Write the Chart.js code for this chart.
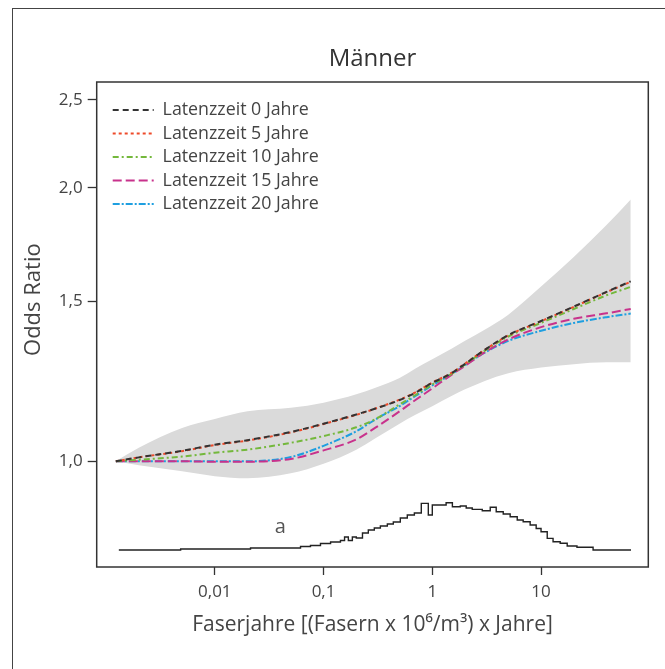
<!DOCTYPE html>
<html>
<head>
<meta charset="utf-8">
<script src="https://cdn.jsdelivr.net/npm/chart.js@4.4.1/dist/chart.umd.min.js"></script>
<style>
  html, body { margin: 0; padding: 0; background: #fff; }
  #wrap { position: relative; width: 665px; height: 669px; overflow: hidden; }
  #frame { position: absolute; left: 12px; top: 8px; width: 700px; height: 700px;
           border-left: 1.5px solid #444; border-top: 1.5px solid #444; }
  canvas { position: absolute; left: 0; top: 0; }
</style>
</head>
<body>
<div id="wrap"><div id="frame"></div><canvas id="chart" width="665" height="669"></canvas></div>
<script>
var xValues = [0.00123, 0.002, 0.005, 0.01, 0.02, 0.05, 0.1, 0.2, 0.3, 0.5, 0.7, 1, 1.5, 2, 3, 5, 10, 20, 40, 66.8];

// odds ratio curves, one per latency time
var lat0  = [1.0, 1.01, 1.027, 1.043, 1.055, 1.077, 1.10, 1.126, 1.143, 1.168, 1.19, 1.22, 1.25, 1.28, 1.325, 1.377, 1.427, 1.48, 1.536, 1.578];
var lat5  = [1.0, 1.01, 1.026, 1.042, 1.054, 1.076, 1.099, 1.125, 1.143, 1.169, 1.191, 1.221, 1.251, 1.281, 1.325, 1.376, 1.426, 1.479, 1.535, 1.576];
var lat10 = [1.0, 1.004, 1.012, 1.022, 1.03, 1.048, 1.066, 1.09, 1.113, 1.155, 1.183, 1.215, 1.248, 1.278, 1.322, 1.372, 1.42, 1.471, 1.523, 1.556];
var lat15 = [1.0, 1.0, 1.0, 0.999, 0.999, 1.006, 1.028, 1.057, 1.089, 1.135, 1.168, 1.203, 1.245, 1.274, 1.317, 1.362, 1.405, 1.435, 1.455, 1.471];
var lat20 = [1.0, 1.0, 1.0, 1.0, 1.0, 1.011, 1.04, 1.079, 1.112, 1.15, 1.18, 1.212, 1.247, 1.276, 1.316, 1.357, 1.392, 1.42, 1.441, 1.454];

// confidence band (grey area)
var bandUpper = [1.0, 1.035, 1.088, 1.113, 1.135, 1.145, 1.16, 1.185, 1.205, 1.235, 1.265, 1.295, 1.33, 1.357, 1.395, 1.45, 1.557, 1.678, 1.82, 1.942];
var bandLower = [1.0, 0.99, 0.975, 0.963, 0.958, 0.97, 0.994, 1.03, 1.06, 1.10, 1.125, 1.15, 1.18, 1.2, 1.225, 1.25, 1.268, 1.279, 1.285, 1.285];

// exposure distribution (relative frequency in % of the peak), bin starts
var histX = [0.00131, 0.00485, 0.0213, 0.0614, 0.0758, 0.0937, 0.116, 0.143, 0.156, 0.169, 0.184, 0.2, 0.228, 0.258, 0.293, 0.333, 0.386, 0.438, 0.508, 0.589, 0.684, 0.792, 0.919, 1.0, 1.34, 1.53, 1.81, 2.05, 2.33, 2.88, 3.41, 3.87, 4.49, 5.2, 6.04, 6.85, 7.94, 9.02, 10.0, 11.4, 12.9, 15.0, 17.4, 21.4, 30.1, 67.2];
var histY = [0, 2.1, 4.2, 7.4, 9.5, 13.7, 16.9, 20.1, 27.5, 20.1, 27.5, 25.4, 35.9, 42.3, 46.5, 50.7, 55, 59.2, 67.7, 74, 78.2, 98.7, 74, 95.1, 100, 91.5, 93, 88.8, 86, 83.1, 90.3, 81, 76.1, 70.4, 63.4, 59.8, 52.9, 45.5, 38.7, 24.7, 17.5, 14.2, 8.5, 5.7, 0, 0];

// labels and ticks
var seriesLabels = ["Latenzzeit 0 Jahre", "Latenzzeit 5 Jahre", "Latenzzeit 10 Jahre", "Latenzzeit 15 Jahre", "Latenzzeit 20 Jahre"];
var xTicks = [0.01, 0.1, 1, 10];
var yTicks = [1.0, 1.5, 2.0, 2.5];
var histNote = "a";
var histNoteX = 0.040;
var histNoteY = 48;

var FONT = "'Open Sans', 'Noto Sans', sans-serif";

function pts(xs, ys) {
  return xs.map(function (x, i) { return { x: x, y: ys[i] }; });
}

function curve(label, values, color, dash) {
  return {
    label: label,
    data: pts(xValues, values),
    borderColor: color,
    backgroundColor: color,
    borderWidth: 2,
    borderDash: dash,
    pointRadius: 0,
    fill: false,
    cubicInterpolationMode: "monotone",
    order: 1,
  };
}

// legend entries as dashed lines like the curves
function legendLabels(chart) {
  var items = Chart.defaults.plugins.legend.labels.generateLabels(chart);
  items.forEach(function (it) {
    var ds = chart.data.datasets[it.datasetIndex];
    it.lineDash = ds.borderDash;
    it.strokeStyle = ds.borderColor;
    it.lineWidth = 2;
  });
  return items.filter(function (it) { return it.datasetIndex < 5; });
}

// box round the plot, legend placement and the small "a" note
var framePlugin = {
  id: "frame",
  afterLayout: function (chart) {
    chart.legend.left = chart.chartArea.left + 10.3;
    chart.legend.top = chart.chartArea.top + 13.4;
  },
  afterDatasetsDraw: function (chart) {
    var ctx = chart.ctx;
    var a = chart.chartArea;
    ctx.save();
    ctx.font = "20px " + FONT;
    ctx.fillStyle = "#555";
    ctx.textAlign = "center";
    ctx.textBaseline = "middle";
    ctx.fillText(histNote, chart.scales.x.getPixelForValue(histNoteX), chart.scales.yh.getPixelForValue(histNoteY));
    ctx.strokeStyle = "#333";
    ctx.lineWidth = 1.5;
    ctx.strokeRect(a.left, a.top, a.right - a.left, a.bottom - a.top);
    ctx.restore();
  },
};

var ctx = document.getElementById("chart").getContext("2d");
var chart = new Chart(ctx, {
  type: "line",
  data: {
    datasets: [
      curve(seriesLabels[0], lat0, "#333333", [6, 4]),
      curve(seriesLabels[1], lat5, "#ee4a2a", [3, 3]),
      curve(seriesLabels[2], lat10, "#74b83c", [6, 3, 2, 3]),
      curve(seriesLabels[3], lat15, "#c8328c", [9, 4]),
      curve(seriesLabels[4], lat20, "#1f9fe0", [7, 2, 2, 2]),
      {
        label: "upper",
        data: pts(xValues, bandUpper),
        borderWidth: 0,
        pointRadius: 0,
        backgroundColor: "#dadada",
        fill: "+1",
        cubicInterpolationMode: "monotone",
        order: 10,
      },
      {
        label: "lower",
        data: pts(xValues, bandLower),
        borderWidth: 0,
        pointRadius: 0,
        fill: false,
        cubicInterpolationMode: "monotone",
        order: 10,
      },
      {
        label: "hist",
        data: pts(histX, histY),
        yAxisID: "yh",
        stepped: true,
        borderColor: "#222",
        borderWidth: 1.4,
        pointRadius: 0,
        fill: false,
        order: 2,
      },
    ],
  },
  options: {
    responsive: false,
    animation: false,
    layout: { padding: { left: 0, right: 16.7, top: 0, bottom: 0 } },
    plugins: {
      title: {
        display: true,
        text: "Männer",
        fullSize: false,
        color: "#333",
        font: { family: FONT, size: 24, weight: "normal" },
        padding: { top: 45, bottom: 8.2 },
      },
      legend: {
        position: "chartArea",
        align: "start",
        labels: {
          generateLabels: legendLabels,
          usePointStyle: true,
          pointStyle: "line",
          pointStyleWidth: 41,
          color: "#444",
          font: { family: FONT, size: 17.8 },
          padding: 5.7,
        },
      },
      tooltip: { enabled: false },
    },
    scales: {
      x: {
        type: "logarithmic",
        min: 0.00082,
        max: 96.9,
        afterBuildTicks: function (s) { s.ticks = xTicks.map(function (v) { return { value: v }; }); },
        afterFit: function (s) { s.height = 102; },
        ticks: {
          autoSkip: false,
          maxRotation: 0,
          color: "#444",
          font: { family: FONT, size: 17 },
          padding: 6.8,
          callback: function (v) { return String(v).replace(".", ","); },
        },
        grid: { drawOnChartArea: false, tickLength: 8, tickColor: "#333", tickWidth: 1.3 },
        border: { display: false },
        title: {
          display: true,
          text: "Faserjahre [(Fasern x 10⁶/m³) x Jahre]",
          color: "#444",
          font: { family: FONT, size: 21 },
          padding: { top: 4, bottom: 31.4 },
        },
      },
      y: {
        type: "logarithmic",
        min: 0.765,
        max: 2.615,
        afterBuildTicks: function (s) { s.ticks = yTicks.map(function (v) { return { value: v }; }); },
        afterFit: function (s) { s.width = 96.7; },
        ticks: {
          autoSkip: false,
          color: "#444",
          font: { family: FONT, size: 17 },
          padding: 5,
          callback: function (v) { return v.toFixed(1).replace(".", ","); },
        },
        grid: { drawOnChartArea: false, tickLength: 9, tickColor: "#333", tickWidth: 1.3 },
        border: { display: false },
        title: {
          display: true,
          text: "\u2002\u2002\u2002\u2002 Odds Ratio",
          color: "#444",
          font: { family: FONT, size: 22 },
          padding: { top: 21, bottom: 0 },
        },
      },
      yh: {
        type: "linear",
        display: false,
        min: -35.9,
        max: 989.5,
      },
    },
  },
  plugins: [framePlugin],
});
</script>
</body>
</html>
